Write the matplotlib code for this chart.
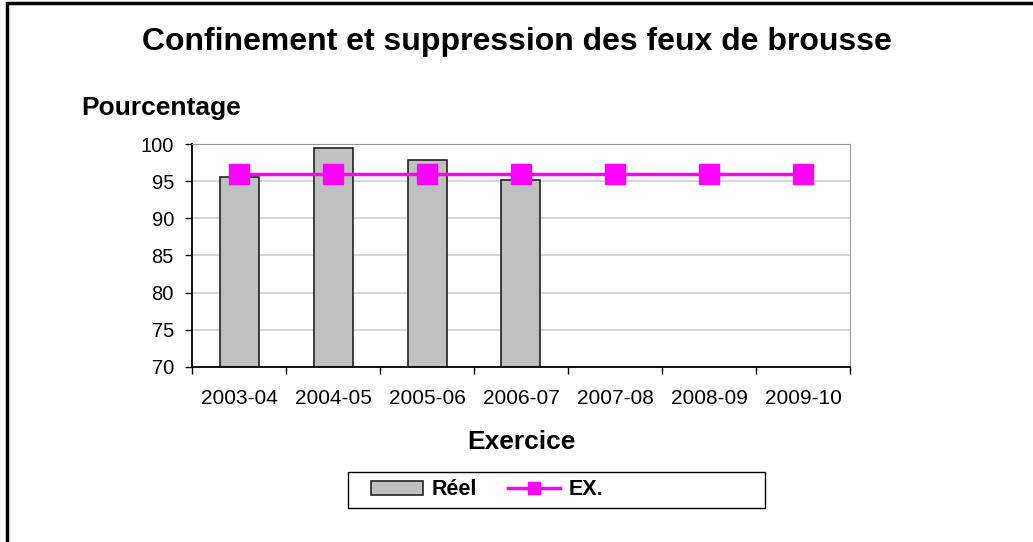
import numpy as np
import matplotlib.pyplot as plt
from matplotlib.patches import Rectangle

plt.rcParams['font.family'] = ['Liberation Sans', 'DejaVu Sans']

exercices = ['2003-04', '2004-05', '2005-06', '2006-07', '2007-08', '2008-09', '2009-10']
reel = [95.5, 99.4, 97.9, 95.2]
ex_cible = [96, 96, 96, 96, 96, 96, 96]

fig = plt.figure(figsize=(10.33, 5.42), dpi=100)
ax = fig.add_axes([0.1859, 0.3229, 0.6369, 0.4114])

x = np.arange(len(exercices))
bars = ax.bar(x[:len(reel)], reel, width=0.415, color='#c0c0c0', edgecolor='#222222',
              linewidth=1.2, label='Réel', zorder=2)
line, = ax.plot(x, ex_cible, color='#ff00ff', linewidth=2.5, marker='s', markersize=14,
                label='EX.', zorder=3)

ax.set_xlim(-0.5, len(exercices) - 0.5)
ax.set_ylim(70, 100)
ax.set_yticks(np.arange(70, 101, 5))
ax.yaxis.grid(True, color='#d0d0d0', linewidth=1.2, zorder=0)
ax.set_axisbelow(True)

ax.set_xticks(x)
ax.set_xticklabels(exercices, fontsize=15)
ax.set_xticks(np.arange(-0.5, len(exercices), 1), minor=True)
ax.tick_params(axis='x', which='major', length=0, pad=16)
ax.tick_params(axis='x', which='minor', length=5, width=1, direction='out')
ax.tick_params(axis='y', labelsize=14.5, length=5, width=1, direction='out', pad=8)

for s in ['top', 'right']:
    ax.spines[s].set_color('#999999')
for s in ['left', 'bottom']:
    ax.spines[s].set_color('black')
    ax.spines[s].set_linewidth(1.3)

fig.text(0.5, 0.922, 'Confinement et suppression des feux de brousse',
         ha='center', va='center', fontsize=23, fontweight='bold')
fig.text(0.079, 0.8, 'Pourcentage', ha='left', va='center', fontsize=19, fontweight='bold')
ax.set_xlabel('Exercice', fontsize=19, fontweight='bold', labelpad=16)

leg = fig.legend([bars, line], ['Réel', 'EX.'], loc='center left',
                 bbox_to_anchor=(0.349, 0.096), ncol=2,
                 prop={'weight': 'bold', 'size': 15.5}, frameon=False,
                 borderpad=0, columnspacing=1.44, markerscale=0.65,
                 handlelength=2.4, handletextpad=0.42, handleheight=0.6)

# legend frame
fig.patches.append(Rectangle((348 / 1033, 1 - 508 / 542), 417 / 1033, 36 / 542,
                             transform=fig.transFigure, fill=False,
                             edgecolor='black', linewidth=1.0))

# outer chart frame
fig.patches.append(Rectangle((0.007, -0.01), 1.2, 1.004, transform=fig.transFigure,
                             fill=False, edgecolor='black', linewidth=2.5))

fig.savefig('out.png', dpi=100)
